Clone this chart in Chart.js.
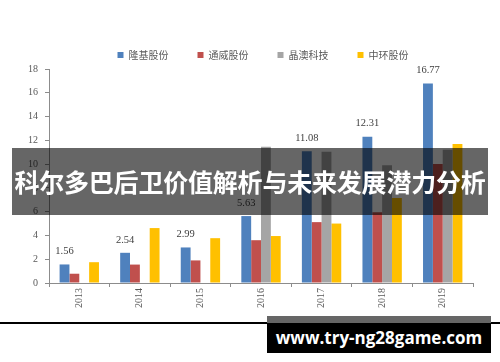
<!DOCTYPE html>
<html>
<head>
<meta charset="utf-8">
<script src="https://cdn.jsdelivr.net/npm/chart.js@4/dist/chart.umd.min.js"></script>
<style>
  body { margin: 0; background: #fff; }
  #wrap { position: relative; width: 500px; height: 362px; overflow: hidden; }
  #banner {
    position: absolute; left: 12px; top: 148px; width: 476px; height: 67px;
    background: rgba(0,0,0,0.6); color: #fff;
    font: bold 25px "Noto Sans CJK SC", sans-serif;
    line-height: 67px; text-align: center; letter-spacing: -0.2px;
  }
  #rule { position: absolute; left: 0; top: 322px; width: 500px; height: 2px; background: #000; }
  #mark {
    position: absolute; left: 267px; top: 316px; width: 224px; height: 30px;
    border-top: 7px solid #666; background: #000; color: #fff;
    font: bold 17px "Open Sans", sans-serif; line-height: 29px; text-align: center;
  }
</style>
</head>
<body>
<div id="wrap">
  <canvas id="chart" width="500" height="362"></canvas>
  <div id="banner">科尔多巴后卫价值解析与未来发展潜力分析</div>
  <div id="rule"></div>
  <div id="mark">www.try-ng28game.com</div>
</div>
<script>
const years = ["2013","2014","2015","2016","2017","2018","2019"];
const names = ["隆基股份","通威股份","晶澳科技","中环股份"];
const colors = ["#4F81BD","#C0504D","#A5A5A5","#FFC000"];

const longi     = [1.56, 2.54, 2.99, 5.63, 11.08, 12.31, 16.77];
const tongwei   = [0.78, 1.55, 1.90, 3.60, 5.12, 5.95, 10.00];
const jingao    = [null, null, null, 11.45, 11.03, 9.90, 11.20];
const zhonghuan = [1.75, 4.62, 3.77, 3.95, 5.00, 7.15, 11.70];

const yMin = 0, yMax = 18, yStep = 2;

const axisGray = "#8C8C8C";
const textGray = "#595959";

// value labels above the first series only
const blueLabels = {
  id: "blueLabels",
  afterDatasetsDraw(chart) {
    const ctx = chart.ctx;
    const meta = chart.getDatasetMeta(0);
    ctx.save();
    ctx.font = "10.5px 'Liberation Serif'";
    ctx.fillStyle = "#404040";
    ctx.textAlign = "center";
    ctx.textBaseline = "middle";
    meta.data.forEach((bar, i) => {
      ctx.fillText(longi[i].toFixed(2), bar.x, bar.y - 13);
    });
    ctx.restore();
  }
};

const series = [longi, tongwei, jingao, zhonghuan];

new Chart(document.getElementById("chart"), {
  type: "bar",
  data: {
    labels: years,
    datasets: series.map((d, i) => ({
      label: names[i],
      data: d,
      backgroundColor: colors[i],
      borderWidth: 0,
      categoryPercentage: 0.65,
      barPercentage: 1.0
    }))
  },
  options: {
    responsive: false,
    animation: false,
    devicePixelRatio: 1,
    layout: { padding: { left: 26, right: 0, top: 21, bottom: 0 } },
    plugins: {
      tooltip: { enabled: false },
      legend: {
        position: "top",
        maxHeight: 48,
        labels: {
          boxWidth: 6, boxHeight: 6, padding: 29,
          color: textGray,
          font: { family: "'Noto Sans CJK SC'", size: 10 }
        }
      }
    },
    scales: {
      x: {
        grid: { drawOnChartArea: false, drawTicks: true, tickLength: 4, color: axisGray, offset: true },
        border: { color: axisGray },
        ticks: {
          minRotation: 90, maxRotation: 90, padding: 1,
          color: textGray, font: { family: "'Liberation Serif'", size: 10 }
        },
        afterFit: s => { s.height = 79; }
      },
      y: {
        min: yMin, max: yMax,
        grid: { drawOnChartArea: false, drawTicks: true, tickLength: 4, color: axisGray },
        border: { color: axisGray },
        ticks: {
          stepSize: yStep, padding: 7,
          color: textGray, font: { family: "'Liberation Serif'", size: 10 }
        },
        afterFit: s => { s.width = 23; }
      },
      y2: {
        position: "right",
        grid: { display: false },
        border: { display: false },
        ticks: { display: false },
        afterFit: s => { s.width = 27; }
      }
    }
  },
  plugins: [blueLabels]
});
</script>
</body>
</html>
